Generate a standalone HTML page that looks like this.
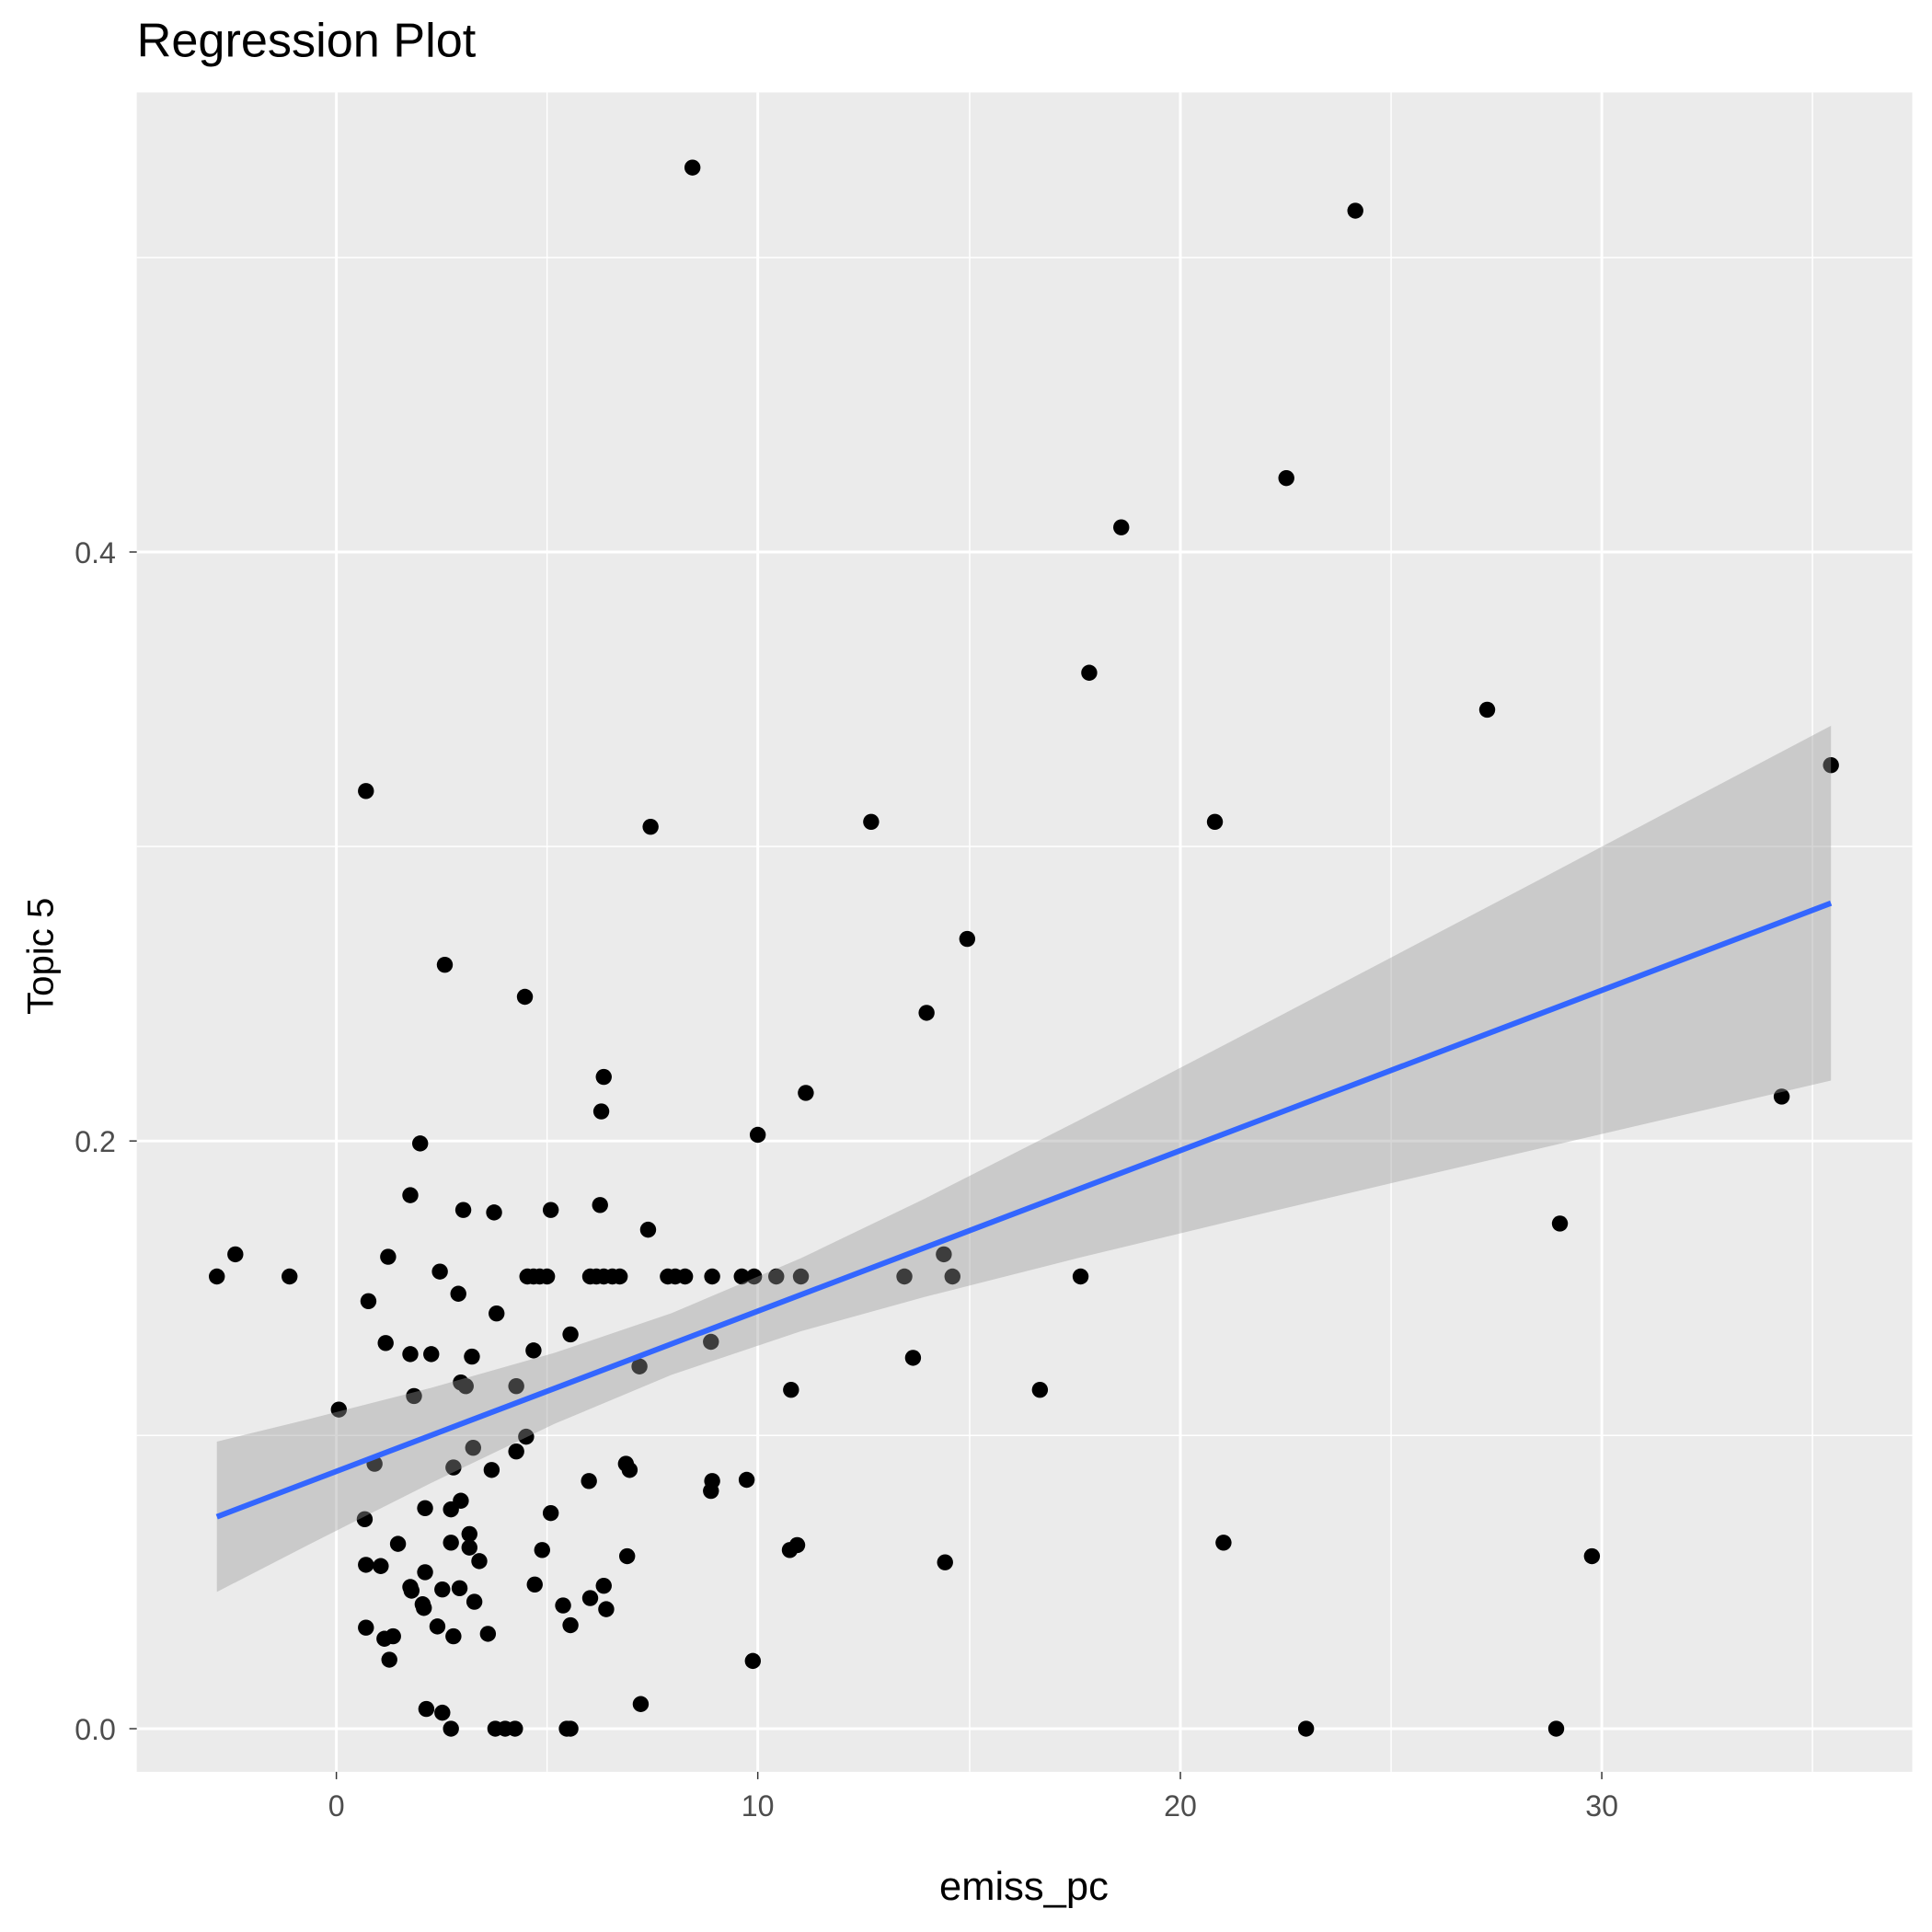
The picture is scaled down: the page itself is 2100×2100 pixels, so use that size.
<!DOCTYPE html>
<html><head><meta charset="utf-8"><style>
html,body{margin:0;padding:0;background:#fff}
svg{display:block}
text{font-family:"Liberation Sans",Arial,sans-serif}
</style></head><body>
<svg width="2100" height="2100" viewBox="0 0 1568 1568" xmlns="http://www.w3.org/2000/svg">
<rect width="1568" height="1568" fill="#fff"/>
<rect x="111" y="75" width="1441" height="1363" fill="#ebebeb"/>
<g stroke="#fff" stroke-width="1.1">
<line x1="111" x2="1552" y1="1165" y2="1165"/><line x1="111" x2="1552" y1="687" y2="687"/><line x1="111" x2="1552" y1="209" y2="209"/>
<line y1="75" y2="1438" x1="444" x2="444"/><line y1="75" y2="1438" x1="787" x2="787"/><line y1="75" y2="1438" x1="1129" x2="1129"/><line y1="75" y2="1438" x1="1471" x2="1471"/>
</g>
<g stroke="#fff" stroke-width="2.2">
<line x1="111" x2="1552" y1="1403" y2="1403"/><line x1="111" x2="1552" y1="926" y2="926"/><line x1="111" x2="1552" y1="448" y2="448"/>
<line y1="75" y2="1438" x1="273" x2="273"/><line y1="75" y2="1438" x1="615" x2="615"/><line y1="75" y2="1438" x1="958" x2="958"/><line y1="75" y2="1438" x1="1300" x2="1300"/>
</g>
<g fill="#000">
<circle cx="562" cy="136" r="6.5"/><circle cx="1100" cy="171" r="6.5"/><circle cx="1044" cy="388" r="6.5"/><circle cx="910" cy="428" r="6.5"/><circle cx="884" cy="546" r="6.5"/><circle cx="1207" cy="576" r="6.5"/><circle cx="1486" cy="621" r="6.5"/><circle cx="297" cy="642" r="6.5"/><circle cx="528" cy="671" r="6.5"/><circle cx="707" cy="667" r="6.5"/><circle cx="986" cy="667" r="6.5"/><circle cx="785" cy="762" r="6.5"/><circle cx="361" cy="783" r="6.5"/><circle cx="426" cy="809" r="6.5"/><circle cx="752" cy="822" r="6.5"/><circle cx="490" cy="874" r="6.5"/><circle cx="654" cy="887" r="6.5"/><circle cx="488" cy="902" r="6.5"/><circle cx="1446" cy="890" r="6.5"/><circle cx="615" cy="921" r="6.5"/><circle cx="341" cy="928" r="6.5"/><circle cx="333" cy="970" r="6.5"/><circle cx="376" cy="982" r="6.5"/><circle cx="401" cy="984" r="6.5"/><circle cx="447" cy="982" r="6.5"/><circle cx="487" cy="978" r="6.5"/><circle cx="526" cy="998" r="6.5"/><circle cx="1266" cy="993" r="6.5"/><circle cx="191" cy="1018" r="6.5"/><circle cx="315" cy="1020" r="6.5"/><circle cx="766" cy="1018" r="6.5"/><circle cx="176" cy="1036" r="6.5"/><circle cx="235" cy="1036" r="6.5"/><circle cx="357" cy="1032" r="6.5"/><circle cx="428" cy="1036" r="6.5"/><circle cx="433" cy="1036" r="6.5"/><circle cx="438" cy="1036" r="6.5"/><circle cx="444" cy="1036" r="6.5"/><circle cx="479" cy="1036" r="6.5"/><circle cx="484" cy="1036" r="6.5"/><circle cx="490" cy="1036" r="6.5"/><circle cx="497" cy="1036" r="6.5"/><circle cx="503" cy="1036" r="6.5"/><circle cx="542" cy="1036" r="6.5"/><circle cx="548" cy="1036" r="6.5"/><circle cx="556" cy="1036" r="6.5"/><circle cx="578" cy="1036" r="6.5"/><circle cx="602" cy="1036" r="6.5"/><circle cx="612" cy="1036" r="6.5"/><circle cx="630" cy="1036" r="6.5"/><circle cx="650" cy="1036" r="6.5"/><circle cx="734" cy="1036" r="6.5"/><circle cx="773" cy="1036" r="6.5"/><circle cx="877" cy="1036" r="6.5"/><circle cx="299" cy="1056" r="6.5"/><circle cx="372" cy="1050" r="6.5"/><circle cx="403" cy="1066" r="6.5"/><circle cx="313" cy="1090" r="6.5"/><circle cx="463" cy="1083" r="6.5"/><circle cx="433" cy="1096" r="6.5"/><circle cx="333" cy="1099" r="6.5"/><circle cx="350" cy="1099" r="6.5"/><circle cx="383" cy="1101" r="6.5"/><circle cx="577" cy="1089" r="6.5"/><circle cx="741" cy="1102" r="6.5"/><circle cx="519" cy="1109" r="6.5"/><circle cx="374" cy="1122" r="6.5"/><circle cx="378" cy="1125" r="6.5"/><circle cx="419" cy="1125" r="6.5"/><circle cx="336" cy="1133" r="6.5"/><circle cx="642" cy="1128" r="6.5"/><circle cx="844" cy="1128" r="6.5"/><circle cx="275" cy="1144" r="6.5"/><circle cx="427" cy="1166" r="6.5"/><circle cx="384" cy="1175" r="6.5"/><circle cx="419" cy="1178" r="6.5"/><circle cx="304" cy="1188" r="6.5"/><circle cx="368" cy="1191" r="6.5"/><circle cx="399" cy="1193" r="6.5"/><circle cx="508" cy="1188" r="6.5"/><circle cx="511" cy="1193" r="6.5"/><circle cx="478" cy="1202" r="6.5"/><circle cx="578" cy="1202" r="6.5"/><circle cx="606" cy="1201" r="6.5"/><circle cx="577" cy="1210" r="6.5"/><circle cx="374" cy="1218" r="6.5"/><circle cx="366" cy="1225" r="6.5"/><circle cx="345" cy="1224" r="6.5"/><circle cx="447" cy="1228" r="6.5"/><circle cx="296" cy="1233" r="6.5"/><circle cx="381" cy="1245" r="6.5"/><circle cx="366" cy="1252" r="6.5"/><circle cx="381" cy="1256" r="6.5"/><circle cx="440" cy="1258" r="6.5"/><circle cx="323" cy="1253" r="6.5"/><circle cx="641" cy="1258" r="6.5"/><circle cx="647" cy="1254" r="6.5"/><circle cx="993" cy="1252" r="6.5"/><circle cx="389" cy="1267" r="6.5"/><circle cx="509" cy="1263" r="6.5"/><circle cx="1292" cy="1263" r="6.5"/><circle cx="767" cy="1268" r="6.5"/><circle cx="297" cy="1270" r="6.5"/><circle cx="309" cy="1271" r="6.5"/><circle cx="345" cy="1276" r="6.5"/><circle cx="434" cy="1286" r="6.5"/><circle cx="490" cy="1287" r="6.5"/><circle cx="333" cy="1288" r="6.5"/><circle cx="334" cy="1291" r="6.5"/><circle cx="359" cy="1290" r="6.5"/><circle cx="373" cy="1289" r="6.5"/><circle cx="385" cy="1300" r="6.5"/><circle cx="343" cy="1302" r="6.5"/><circle cx="344" cy="1305" r="6.5"/><circle cx="479" cy="1297" r="6.5"/><circle cx="457" cy="1303" r="6.5"/><circle cx="492" cy="1306" r="6.5"/><circle cx="297" cy="1321" r="6.5"/><circle cx="355" cy="1320" r="6.5"/><circle cx="463" cy="1319" r="6.5"/><circle cx="368" cy="1328" r="6.5"/><circle cx="396" cy="1326" r="6.5"/><circle cx="312" cy="1330" r="6.5"/><circle cx="319" cy="1328" r="6.5"/><circle cx="316" cy="1347" r="6.5"/><circle cx="611" cy="1348" r="6.5"/><circle cx="346" cy="1387" r="6.5"/><circle cx="359" cy="1390" r="6.5"/><circle cx="520" cy="1383" r="6.5"/><circle cx="366" cy="1403" r="6.5"/><circle cx="402" cy="1403" r="6.5"/><circle cx="410" cy="1403" r="6.5"/><circle cx="418" cy="1403" r="6.5"/><circle cx="460" cy="1403" r="6.5"/><circle cx="463" cy="1403" r="6.5"/><circle cx="1060" cy="1403" r="6.5"/><circle cx="1263" cy="1403" r="6.5"/>
</g>
<path d="M176,1170 L250,1151.9 L350,1126.3 L450,1098 L545,1065.8 L650,1021.2 L750,973.1 L875,909.6 L1000,844.8 L1125,779.2 L1250,713.6 L1370,650.2 L1486,589 L1486,877 L1370,904 L1250,932 L1125,961.2 L1000,990.8 L875,1021 L750,1052.7 L650,1080.4 L545,1115.8 L450,1155.6 L350,1203.5 L250,1253.9 L176,1292 Z" fill="#999" fill-opacity="0.4"/>
<line x1="176" y1="1231" x2="1486" y2="733" stroke="#3366ff" stroke-width="4.5"/>
<g stroke="#333" stroke-width="1.1">
<line x1="105" x2="111" y1="1403" y2="1403"/><line x1="105" x2="111" y1="926" y2="926"/><line x1="105" x2="111" y1="448" y2="448"/>
<line y1="1438" y2="1444" x1="273" x2="273"/><line y1="1438" y2="1444" x1="615" x2="615"/><line y1="1438" y2="1444" x1="958" x2="958"/><line y1="1438" y2="1444" x1="1300" x2="1300"/>
</g>
<g fill="#4d4d4d" font-size="24" text-anchor="end">
<text x="94" y="1412">0.0</text><text x="94" y="935">0.2</text><text x="94" y="457">0.4</text>
</g>
<g fill="#4d4d4d" font-size="24" text-anchor="middle">
<text x="273" y="1474">0</text><text x="615" y="1474">10</text><text x="958" y="1474">20</text><text x="1300" y="1474">30</text>
</g>
<text x="831" y="1542" font-size="32.5" text-anchor="middle" fill="#000">emiss_pc</text>
<text transform="translate(43,776) rotate(-90)" font-size="30" text-anchor="middle" fill="#000">Topic 5</text>
<text x="111" y="46" font-size="39" fill="#000">Regression Plot</text>
</svg>
</body></html>
